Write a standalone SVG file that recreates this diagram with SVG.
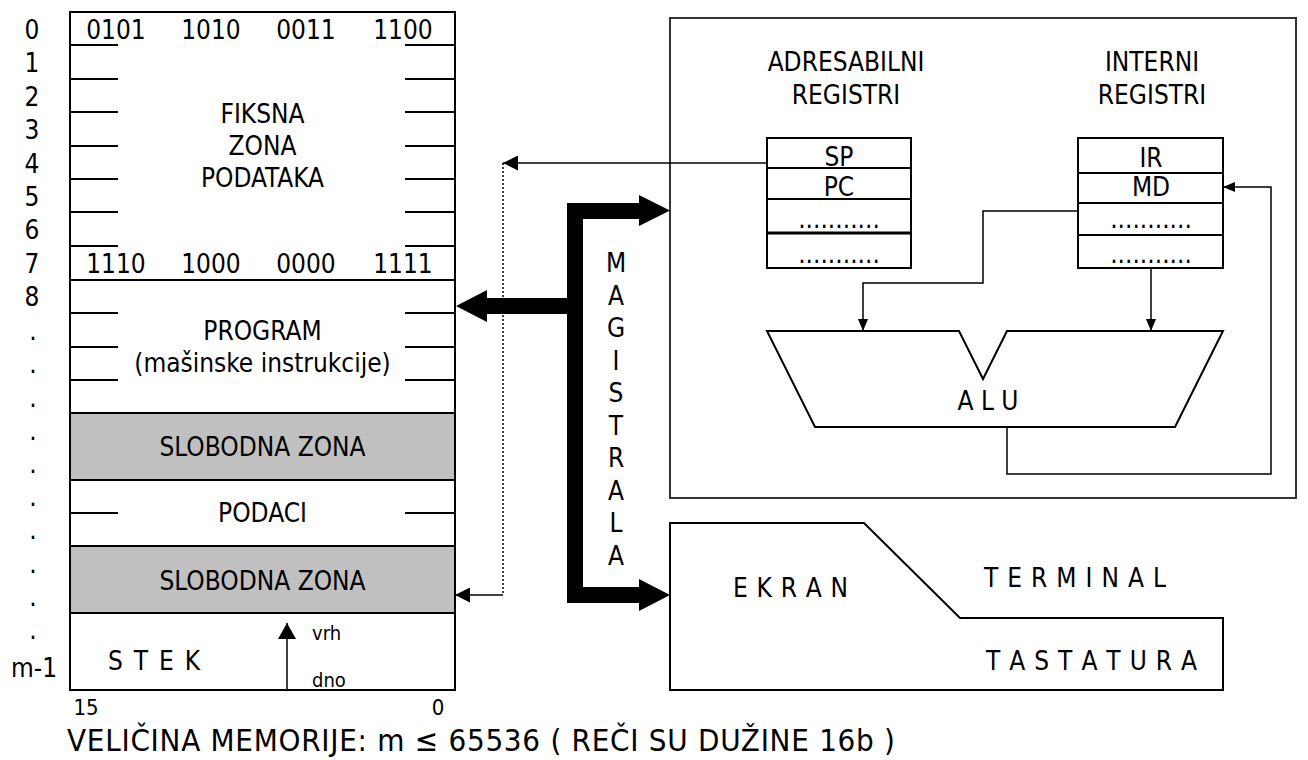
<svg xmlns="http://www.w3.org/2000/svg" width="1308" height="760" viewBox="0 0 1308 760">
<style>
text{font-family:"DejaVu Sans Condensed","DejaVu Sans",sans-serif;font-stretch:condensed;fill:#000;}
.t{font-size:26px;}
.c{text-anchor:middle;}
.s{font-size:20px;}
.n{font-size:22px;}
.b{font-size:31px;}
.box{fill:#fff;stroke:#000;stroke-width:2;}
.gray{fill:#c0c0c0;stroke:#000;stroke-width:2;}
.ln{stroke:#000;stroke-width:2;fill:none;}
.thin{stroke:#000;stroke-width:1.5;fill:none;}
.cpu{fill:#fff;stroke:#333;stroke-width:2;}
</style>
<defs>
<marker id="ahL" markerUnits="userSpaceOnUse" markerWidth="15" markerHeight="15" refX="15" refY="7.5" orient="auto"><path d="M0,0 L15,7.5 L0,15 z" fill="#000"/></marker>
<marker id="ahS" markerUnits="userSpaceOnUse" markerWidth="12" markerHeight="10" refX="12" refY="5" orient="auto"><path d="M0,0 L12,5 L0,10 z" fill="#000"/></marker>
<marker id="ahK" markerUnits="userSpaceOnUse" markerWidth="16" markerHeight="18" refX="16" refY="9" orient="auto"><path d="M0,0 L16,9 L0,18 z" fill="#000"/></marker>
</defs>

<g id="memory-labels">
<text class="t c" x="32" y="39">0</text>
<text class="t c" x="32" y="72">1</text>
<text class="t c" x="32" y="106">2</text>
<text class="t c" x="32" y="139">3</text>
<text class="t c" x="32" y="173">4</text>
<text class="t c" x="32" y="206">5</text>
<text class="t c" x="32" y="239">6</text>
<text class="t c" x="32" y="273">7</text>
<text class="t c" x="32" y="306">8</text>
<text class="t c" x="33" y="340">.</text>
<text class="t c" x="33" y="373">.</text>
<text class="t c" x="33" y="407">.</text>
<text class="t c" x="33" y="440">.</text>
<text class="t c" x="33" y="473">.</text>
<text class="t c" x="33" y="506">.</text>
<text class="t c" x="33" y="539">.</text>
<text class="t c" x="33" y="573">.</text>
<text class="t c" x="33" y="606">.</text>
<text class="t c" x="33" y="639">.</text>
<text class="t c" x="34" y="677">m-1</text>
<text class="n c" x="86" y="715">15</text>
<text class="n c" x="438" y="715">0</text>
</g>

<g id="memory">
<rect class="box" x="70" y="12" width="385" height="678"/>
<rect class="gray" x="70" y="413" width="385" height="67"/>
<rect class="gray" x="70" y="546" width="385" height="67"/>
<path class="ln" d="M70,45H118M405,45H455M70,79H118M405,79H455M70,112H118M405,112H455M70,146H118M405,146H455M70,179H118M405,179H455M70,212H118M405,212H455M70,246H118M405,246H455M70,280H455M70,313H118M405,313H455M70,347H118M405,347H455M70,380H118M405,380H455M70,513H118M405,513H455"/>
<text class="t c" x="116" y="39">0101</text>
<text class="t c" x="211" y="39">1010</text>
<text class="t c" x="306" y="39">0011</text>
<text class="t c" x="403" y="39">1100</text>
<text class="t c" x="116" y="273">1110</text>
<text class="t c" x="211" y="273">1000</text>
<text class="t c" x="306" y="273">0000</text>
<text class="t c" x="403" y="273">1111</text>
<text class="t c" x="262.5" y="123">FIKSNA</text>
<text class="t c" x="262.5" y="155">ZONA</text>
<text class="t c" x="262.5" y="187">PODATAKA</text>
<text class="t c" x="262.5" y="340">PROGRAM</text>
<text class="t c" x="262.5" y="372">(mašinske instrukcije)</text>
<text class="t c" x="262.5" y="456">SLOBODNA ZONA</text>
<text class="t c" x="262.5" y="522">PODACI</text>
<text class="t c" x="262.5" y="590">SLOBODNA ZONA</text>
<text class="t" x="108" y="670" textLength="92">S T E K</text>
<text class="s" x="312" y="640">vrh</text>
<text class="s" x="312" y="687">dno</text>
<line class="thin" x1="287" y1="690" x2="287" y2="623" marker-end="url(#ahK)"/>
</g>

<g id="cpu">
<rect class="cpu" x="670" y="18" width="626" height="480"/>
</g>

<g id="addr-registers">
<text class="t c" x="846" y="71">ADRESABILNI</text>
<text class="t c" x="846" y="104">REGISTRI</text>
<rect class="box" x="767" y="138" width="144" height="130"/>
<path class="ln" d="M767,168H911M767,199H911"/>
<path d="M767,233H911" stroke="#000" stroke-width="3"/>
<text class="t c" x="839" y="166">SP</text>
<text class="t c" x="839" y="196">PC</text>
<text class="t c" x="839" y="228">...........</text>
<text class="t c" x="839" y="263">...........</text>
</g>

<g id="int-registers">
<text class="t c" x="1152" y="71">INTERNI</text>
<text class="t c" x="1152" y="104">REGISTRI</text>
<rect class="box" x="1078" y="138" width="145" height="130"/>
<path class="ln" d="M1078,173H1223M1078,203H1223M1078,235H1223"/>
<text class="t c" x="1151" y="167">IR</text>
<text class="t c" x="1151" y="196">MD</text>
<text class="t c" x="1151" y="228">...........</text>
<text class="t c" x="1151" y="263">...........</text>
</g>

<g id="alu">
<path class="box" d="M767,331H959L983,379L1007,331H1223L1175,427H815Z"/>
<text class="t c" x="988" y="410">A L U</text>
</g>

<g id="terminal">
<path class="box" d="M670,523H864L960,618H1223V690H670Z"/>
<text class="t" x="733" y="597" textLength="115">E K R A N</text>
<text class="t" x="984" y="587" textLength="182">T E R M I N A L</text>
<text class="t" x="986" y="670" textLength="211">T A S T A T U R A</text>
</g>

<g id="bus">
<path d="M567,203H639V195L670,210.5L639,226V219H583V587H639V579L670,595L639,611V603H567V314H487V322L456,306L487,290V298H567Z" fill="#000"/>
<text class="t c" x="616" y="272">M</text>
<text class="t c" x="616" y="305">A</text>
<text class="t c" x="616" y="337">G</text>
<text class="t c" x="616" y="370">I</text>
<text class="t c" x="616" y="402">S</text>
<text class="t c" x="616" y="435">T</text>
<text class="t c" x="616" y="467">R</text>
<text class="t c" x="616" y="500">A</text>
<text class="t c" x="616" y="532">L</text>
<text class="t c" x="616" y="565">A</text>
</g>

<g id="connectors">
<line class="thin" x1="767" y1="163" x2="503" y2="163" marker-end="url(#ahL)"/>
<line x1="503" y1="163" x2="503" y2="595" stroke="#000" stroke-width="1.5" stroke-dasharray="2,2"/>
<line class="thin" x1="503" y1="595" x2="455" y2="595" marker-end="url(#ahL)"/>
<polyline class="thin" points="1078,211 983,211 983,283 863,283 863,331" marker-end="url(#ahS)"/>
<line class="thin" x1="1151" y1="268" x2="1151" y2="331" marker-end="url(#ahS)"/>
<polyline class="thin" points="1007,427 1007,474 1271,474 1271,187 1223,187" marker-end="url(#ahS)"/>
</g>

<g id="caption">
<text class="b" x="67" y="751" textLength="828">VELIČINA MEMORIJE: m ≤ 65536 ( REČI SU DUŽINE 16b )</text>
</g>
</svg>
